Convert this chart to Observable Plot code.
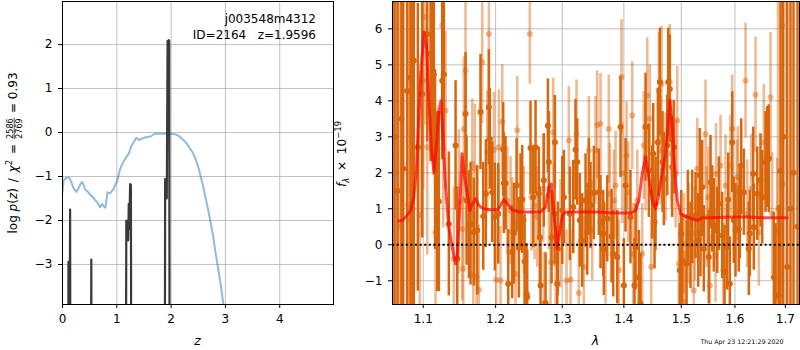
<!DOCTYPE html>
<html><head><meta charset="utf-8">
<script src="https://cdn.jsdelivr.net/npm/d3@7"></script>
<script src="https://cdn.jsdelivr.net/npm/@observablehq/plot@0.6"></script>
<style>
body{margin:0;background:#fff;}
#wrap{position:relative;width:800px;height:350px;overflow:hidden;font-family:"DejaVu Sans";}
#wrap svg{position:absolute;top:0;overflow:visible;}
</style></head><body><div id="wrap"></div>
<script>
// ---------- left panel: redshift PDF ----------
const zChi = [0.00,0.02,0.05,0.08,0.12,0.16,0.21,0.26,0.30,0.34,0.37,0.42,0.47,0.52,0.57,0.61,0.65,0.69,0.73,0.76,0.79,0.83,0.88,0.94,1.01,1.06,1.13,1.22,1.27,1.31,1.36,1.41,1.50,1.56,1.62,1.67,1.71,1.80,1.93,2.02,2.08,2.13,2.20,2.27,2.33,2.40,2.45,2.50,2.54,2.59,2.63,2.68,2.72,2.77,2.81,2.86,2.91,2.95,3.00,3.20];
const logChi = [-1.35,-1.09,-1.05,-1.03,-1.03,-1.12,-1.28,-1.35,-1.25,-1.15,-1.13,-1.30,-1.35,-1.43,-1.48,-1.55,-1.60,-1.70,-1.62,-1.68,-1.71,-1.36,-1.38,-1.28,-1.09,-0.83,-0.64,-0.48,-0.30,-0.22,-0.12,-0.17,-0.12,-0.10,-0.09,-0.05,-0.02,-0.03,-0.02,-0.03,-0.04,-0.07,-0.14,-0.22,-0.33,-0.46,-0.60,-0.78,-0.98,-1.22,-1.47,-1.74,-2.00,-2.33,-2.67,-3.05,-3.43,-3.80,-4.20,-6.00];
const zPz = [0.00,0.10,0.11,0.12,0.135,0.14,0.15,0.52,0.53,0.54,1.16,1.175,1.19,1.20,1.21,1.22,1.23,1.245,1.26,1.27,1.88,1.89,1.90,1.91,1.92,1.935,1.945,1.955,1.965,1.975,5.0];
const logPz = [-10,-10,-2.94,-9,-3.5,-1.75,-10,-10,-2.89,-10,-10,-2.0,-2.45,-2.03,-2.45,-1.62,-2.2,-1.17,-1.2,-10,-10,-1.06,-1.46,-1.1,-1.5,2.08,1.2,2.1,2.08,-10,-10];
const zTicks = [0,1,2,3,4];
const pTicks = [-3,-2,-1,0,1,2];
const objName = "j003548m4312";
const objInfo = "ID=2164   z=1.9596";

// ---------- right panel: spectrum ----------
const lamDark = [1.0627,1.0666,1.0739,1.0790,1.0833,1.0876,1.0929,1.0987,1.1053,1.1097,
1.1120,1.1141,1.1157,1.1187,1.1208,1.1254,1.1276,1.1344,1.1436,1.1459,
1.1574,1.1588,1.1620,1.1644,1.1690,1.1738,1.1784,1.1823,1.1860,1.1903,
1.1917,1.1951,1.1989,1.2038,1.2110,1.2119,1.2144,1.2183,1.2242,1.2266,
1.2306,1.2340,1.2365,1.2390,1.2425,1.2454,1.2465,1.2514,1.2555,1.2590,
1.2640,1.2655,1.2666,1.2716,1.2743,1.2778,1.2793,1.2835,1.2886,1.2881,
1.2923,1.2932,1.3001,1.3026,1.3120,1.3174,1.3210,1.3237,1.3278,1.3316,
1.3370,1.3397,1.3423,1.3450,1.3504,1.3585,1.3613,1.3657,1.3667,1.3723,
1.3794,1.3822,1.3889,1.3944,1.4000,1.4028,1.4112,1.4180,1.4198,1.4254,
1.4283,1.4370,1.4427,1.4486,1.4503,1.4526,1.4544,1.4584,1.4619,1.4666,
1.4689,1.4750,1.4767,1.4795,1.4838,1.4867,1.4974,1.5000,1.5018,1.5096,
1.5119,1.5168,1.5199,1.5260,1.5309,1.5338,1.5351,1.5383,1.5412,1.5505,
1.5537,1.5569,1.5599,1.5663,1.5693,1.5757,1.5801,1.5852,1.5871,1.5902,
1.5948,1.5978,1.6011,1.6074,1.6094,1.6121,1.6171,1.6269,1.6288,1.6355,
1.6367,1.6434,1.6499,1.6533,1.6599,1.6633,1.6665,1.6766,1.6800,1.6867,
1.6901,1.6956,1.7038,1.7105,1.7167,1.7250,1.0600,1.0715,1.0858];
const fluxDark = [3.0,1.5,2.11,4.27,4.64,5.12,2.71,4.19,5.86,5.31,
5.17,4.73,2.37,1.2,1.2,4.56,4.73,0.58,2.76,-0.39,
3.64,1.23,0.56,0.58,0.35,0.40,3.69,0.79,1.42,3.82,
2.94,1.46,0.77,0.86,2.65,1.71,1.71,-1.08,-0.2,0.31,
1.65,-0.08,1.23,1.26,-0.46,-1.36,-1.45,2.69,1.32,2.71,
1.42,0.21,-1.13,1.79,-1.62,3.31,2.30,0.21,2.85,0.86,
-1.08,-0.11,0.95,1.32,0.86,1.05,2.64,2.30,0.68,0.12,
1.23,0.35,1.65,1.09,1.44,1.46,0.63,0.31,-0.11,0.72,
0.24,-0.25,-0.34,3.27,-1.13,1.65,0.77,-1.13,-0.06,-0.90,
-1.64,3.27,2.06,1.46,2.53,0.63,1.14,2.85,4.52,2.30,
1.83,2.76,4.52,4.33,2.16,2.71,-0.71,0.31,-0.44,-0.53,
0.77,-0.02,0.77,0.81,0.12,1.93,0.31,1.60,-0.11,-0.34,
1.74,1.0,0.54,0.40,1.14,0.26,-0.76,-0.06,1.25,-1.08,
2.85,0.68,0.40,0.44,0.91,2.20,1.46,-0.11,0.31,1.97,
0.49,1.42,1.79,1.32,2.30,2.44,2.39,-0.90,-1.41,-1.41,
2.06,3.0,-0.62,1.0,2.0,0.5,2.5,3.5,1.0];
const errDark = [9,10,9,8,8,7,4,4,3,3,
2.8,2.8,2.5,2.5,2.5,2.2,2.0,2.0,1.8,2.0,
1.7,1.8,1.5,1.7,1.5,1.8,1.6,1.5,1.5,1.6,
1.4,1.4,1.5,1.4,1.3,1.4,1.3,1.5,1.3,1.4,
1.3,1.4,1.3,1.5,1.3,1.4,1.3,1.3,1.4,1.3,
1.3,1.4,1.3,1.3,1.4,1.3,1.4,1.3,1.3,1.4,
1.6,1.3,1.5,1.3,1.3,1.3,1.4,1.2,1.3,1.3,
1.3,1.2,1.3,1.2,1.3,1.2,1.3,1.2,1.3,1.2,
1.3,1.2,1.3,1.4,1.3,1.3,1.3,1.3,1.2,1.3,
1.4,1.5,1.3,1.3,1.4,1.3,1.3,1.5,1.5,1.4,
1.3,1.4,1.5,1.5,1.4,1.3,1.3,1.2,1.3,1.2,
1.3,1.2,1.3,1.2,1.3,1.3,1.2,1.3,1.2,1.3,
1.3,1.2,1.3,1.2,1.3,1.2,1.3,1.2,1.3,1.3,
1.4,1.2,1.3,1.2,1.3,1.3,1.2,1.3,1.2,1.3,
1.2,1.3,1.3,1.3,1.4,1.4,1.5,1.8,2.0,2.5,
10,10,10,10,10,10,10,10,9];

const lamLight = [1.0646,1.0691,1.0798,1.0833,1.0955,1.1000,1.1031,1.1053,1.1164,1.1254,
1.1268,1.1299,1.1412,1.1481,1.1528,1.1550,1.1574,1.1542,1.1668,1.1682,
1.1704,1.1728,1.1760,1.1808,1.1880,1.1903,1.1975,1.2009,1.2047,1.2071,
1.2096,1.2169,1.2217,1.2242,1.2291,1.2316,1.2414,1.2504,1.2529,1.2575,
1.2616,1.2707,1.2716,1.2793,1.2819,1.2861,1.2897,1.2974,1.3068,1.3104,
1.3131,1.3226,1.3262,1.3342,1.3423,1.3478,1.3532,1.3559,1.3613,1.3695,
1.3749,1.3766,1.3832,1.3861,1.3916,1.3961,1.3973,1.4045,1.4073,1.4141,
1.4158,1.4227,1.4312,1.4340,1.4370,1.4399,1.4444,1.4468,1.4601,1.4631,
1.4649,1.4720,1.4795,1.4821,1.4898,1.4928,1.4957,1.5047,1.5059,1.5137,
1.5228,1.5246,1.5291,1.5444,1.5463,1.5494,1.5524,1.5631,1.5640,1.5725,
1.5776,1.5820,1.5915,1.5948,1.6044,1.6055,1.6205,1.6238,1.6316,1.6401,
1.6467,1.6565,1.6699,1.6733,1.6834,1.6851,1.6936,1.6942];
const fluxLight = [2.0,0.5,1.12,0.68,0.83,4.56,6.32,2.71,0.35,6.09,
2.67,3.73,-0.39,1.19,0.44,3.22,4.84,-0.67,2.25,-0.85,
2.11,-0.90,-1.25,5.07,2.57,5.86,2.64,-0.97,2.71,-0.99,
3.41,1.23,0.95,0.37,-0.81,3.18,0.68,5.86,1.32,1.09,
0.77,1.56,-1.62,1.37,-0.48,3.13,-0.53,0.31,-0.99,2.90,
-0.97,3.08,-1.34,-0.62,2.62,0.40,2.62,3.33,3.36,-0.25,
3.22,1.42,1.23,1.65,-0.71,4.66,1.99,2.48,1.46,3.59,
-0.25,1.23,-0.25,2.76,2.44,4.15,3.5,-0.62,4.29,2.62,
4.47,2.16,4.52,2.53,1.97,3.45,-0.53,0.03,-1.59,0.31,
-1.27,0.31,2.11,3.08,0.77,1.32,-1.13,-0.30,1.97,2.20,
-0.71,1.65,2.20,3.22,1.51,1.88,4.56,0.86,1.56,4.17,
0.35,2.85,4.10,0.86,0.40,1.0,6.09,1.69];
const errLight = [10,9,8,7,4,3,3,3,2.5,2.5,
2.2,2.2,2.0,2.0,2.0,2.0,2.0,2.0,1.8,1.8,
1.8,1.8,1.8,1.7,1.7,1.7,1.6,1.6,1.6,1.5,
1.6,1.5,1.5,1.5,1.5,1.5,1.5,1.4,1.5,1.5,
1.4,1.5,1.4,1.5,1.4,1.5,1.4,1.5,1.4,1.5,
1.4,1.5,1.5,1.4,1.5,1.4,1.5,1.5,1.4,1.4,
1.5,1.4,1.4,1.5,1.4,1.6,1.4,1.5,1.4,1.5,
1.4,1.4,1.4,1.5,1.5,1.6,1.5,1.4,1.6,1.5,
1.6,1.5,1.6,1.5,1.5,1.5,1.4,1.4,1.4,1.4,
1.4,1.3,1.4,1.5,1.4,1.4,1.4,1.3,1.4,1.4,
1.3,1.4,1.4,1.5,1.4,1.4,1.6,1.5,1.5,1.6,
1.5,1.6,1.8,1.7,2.0,9,3,3];

const lamModel = [1.0682,1.0730,1.0769,1.0833,1.0876,1.0912,1.0942,1.0973,1.1011,1.1044,1.1074,1.1110,1.1144,1.1177,1.1208,1.1238,1.1262,1.1299,1.1344,1.1390,1.1436,1.1459,1.1494,1.1525,1.1560,1.1598,1.1634,1.1668,1.1714,1.1760,1.1831,1.1927,1.2023,1.2071,1.2119,1.2169,1.2242,1.2340,1.2514,1.2666,1.2743,1.2793,1.2830,1.2861,1.2897,1.2923,1.2954,1.3001,1.3053,1.3289,1.3559,1.3832,1.4112,1.4198,1.4254,1.4312,1.4370,1.4427,1.4486,1.4544,1.4601,1.4661,1.4720,1.4761,1.4795,1.4838,1.4880,1.4928,1.4987,1.5078,1.5199,1.5291,1.5383,1.5537,1.5915,1.6238,1.6565,1.7038];
const fluxModel = [0.66,0.68,0.77,0.95,1.32,2.16,3.55,4.94,5.91,5.49,4.01,2.62,2.02,2.81,3.73,4.0,3.08,1.60,0.49,-0.06,-0.53,-0.34,1.05,2.53,1.88,1.42,0.95,1.14,1.28,1.09,1.0,0.97,0.97,1.09,1.25,1.14,0.97,0.91,0.91,0.91,1.05,1.60,1.69,1.05,0.40,-0.11,0.31,0.81,0.91,0.91,0.91,0.88,0.88,0.95,1.23,1.97,2.44,1.88,1.23,1.0,1.42,2.02,2.53,3.27,4.01,3.36,2.16,1.23,0.86,0.79,0.72,0.68,0.75,0.75,0.77,0.77,0.75,0.75];
const lamTicks = [1.1,1.2,1.3,1.4,1.5,1.6,1.7];
const fTicks = [-1,0,1,2,3,4,5,6];
const stamp = "Thu Apr 23 12:21:29 2020";

// ---------- build ----------
const chiData = zChi.map((z,i)=>({z, v:logChi[i]}));
const pzData = zPz.map((z,i)=>({z, v:logPz[i]}));
const dark = lamDark.map((l,i)=>({l, f:fluxDark[i], e:errDark[i]}));
const light = lamLight.map((l,i)=>({l, f:fluxLight[i], e:errLight[i]}));
const model = lamModel.map((l,i)=>({l, f:fluxModel[i]}));

const FONT = "DejaVu Sans";
const GRID = {stroke:"#b0b0b0", strokeOpacity:1, strokeWidth:0.8};
const ORANGE = "#d9660c";
const intFmt = d3.format("d");
const baseStyle = {fontFamily:FONT, fontSize:"12px", color:"black", background:"transparent", overflow:"visible"};

const left = Plot.plot({
  width:335, height:350, marginLeft:62, marginRight:2, marginTop:1, marginBottom:46,
  style: baseStyle,
  x:{domain:[0,4.99]},
  y:{domain:[-3.91,2.98]},
  marks:[
    Plot.gridX(zTicks, GRID),
    Plot.gridY(pTicks, GRID),
    Plot.line(chiData, {x:"z", y:"v", stroke:"#1f77b4", strokeOpacity:0.5, strokeWidth:2, clip:true}),
    Plot.line(pzData, {x:"z", y:"v", stroke:"#3a3a3a", strokeWidth:2.2, clip:true}),
    Plot.axisX({ticks:zTicks, tickSize:4, tickPadding:6, tickFormat:intFmt, label:null}),
    Plot.axisY({ticks:pTicks, tickSize:4, tickPadding:6, tickFormat:intFmt, label:null}),
    Plot.frame({stroke:"black", strokeWidth:1})
  ]
});

const right = Plot.plot({
  width:465, height:350, marginLeft:57, marginRight:1, marginTop:1, marginBottom:46,
  style: baseStyle,
  x:{type:"log", domain:[1.0601,1.7291]},
  y:{domain:[-1.66,6.76]},
  marks:[
    Plot.gridX(lamTicks, GRID),
    Plot.gridY(fTicks, GRID),
    Plot.ruleX(dark, {x:"l", y1:d=>d.f-d.e, y2:d=>d.f+d.e, stroke:ORANGE, strokeWidth:2.5, clip:true}),
    Plot.dot(dark, {x:"l", y:"f", r:3, fill:ORANGE, stroke:"none", clip:true}),
    Plot.ruleX(light, {x:"l", y1:d=>d.f-d.e, y2:d=>d.f+d.e, stroke:ORANGE, strokeOpacity:0.45, strokeWidth:2.6, clip:true}),
    Plot.dot(light, {x:"l", y:"f", r:3, fill:ORANGE, fillOpacity:0.45, stroke:"none", clip:true}),
    Plot.line(model, {x:"l", y:"f", stroke:"red", strokeOpacity:0.7, strokeWidth:3, clip:true}),
    Plot.ruleY([0], {stroke:"black", strokeWidth:2, strokeDasharray:"2,2.6"}),
    Plot.axisX({ticks:lamTicks, tickSize:4, tickPadding:6, tickFormat:d=>d.toFixed(1), label:null}),
    Plot.axisY({ticks:fTicks, tickSize:4, tickPadding:6, tickFormat:intFmt, label:null}),
    Plot.frame({stroke:"black", strokeWidth:1})
  ]
});

const wrap = document.getElementById("wrap");
left.style.left = "0px";
right.style.left = "335px";
wrap.appendChild(left);
wrap.appendChild(right);

// ---------- texts ----------
const L = d3.select(left), R = d3.select(right);
function txt(sel, x, y, s, size, anchor, italic) {
  return sel.append("text").attr("x",x).attr("y",y).attr("font-family",FONT).attr("font-size",size)
    .attr("text-anchor",anchor||"start").attr("fill","black").style("white-space","pre")
    .attr("font-style", italic ? "italic" : null).text(s);
}
txt(L, 316, 23, objName, 12, "end");
txt(L, 316, 39, objInfo, 12, "end");
txt(L, 197.5, 345, "z", 12.5, "middle", true);
txt(R, 595.5-335, 345, "λ", 12.5, "middle", true);
txt(R, 742-335, 344, stamp, 6.3, "middle");

// left y label with a fraction
{
  const g = L.append("g").attr("transform","translate(17,153) rotate(-90)").attr("font-family",FONT).attr("fill","black").attr("text-anchor","start");
  const inner = g.append("g");
  const tA = inner.append("text").attr("font-size",12).attr("text-anchor","start").style("white-space","pre");
  tA.append("tspan").text("log ");
  tA.append("tspan").attr("font-style","italic").text("p");
  tA.append("tspan").text("(");
  tA.append("tspan").attr("font-style","italic").text("z");
  tA.append("tspan").text(")");
  tA.append("tspan").attr("dx",2).text(" / ");
  tA.append("tspan").attr("dx",2).attr("font-style","italic").text("χ");
  tA.append("tspan").attr("font-size",8.5).attr("dy",-5).text("2");
  tA.append("tspan").attr("dy",5).attr("dx",2).text(" = ");
  const wA = tA.node().getComputedTextLength() + 6 + 1;
  const num = inner.append("text").attr("font-size",8).attr("text-anchor","middle").text("2586");
  const den = inner.append("text").attr("font-size",8).attr("text-anchor","middle").text("2769");
  const fw = Math.max(num.node().getComputedTextLength(), den.node().getComputedTextLength()) + 1;
  num.attr("x", wA + fw/2).attr("y", -4.5);
  den.attr("x", wA + fw/2).attr("y", 5);
  inner.append("line").attr("x1", wA).attr("x2", wA+fw).attr("y1",-2.8).attr("y2",-2.8).attr("stroke","black").attr("stroke-width",0.7);
  const tC = inner.append("text").attr("font-size",12).attr("text-anchor","start").attr("x", wA+fw+1).style("white-space","pre").text(" = 0.93");
  const total = wA + fw + 1 + tC.node().getComputedTextLength();
  inner.attr("transform", `translate(${-total/2},0)`);
}
// right y label
{
  const g = R.append("g").attr("transform","translate(11,154) rotate(-90)").attr("font-family",FONT).attr("fill","black");
  const t = g.append("text").attr("font-size",12).attr("text-anchor","middle").attr("x",0).style("white-space","pre");
  t.append("tspan").attr("font-style","italic").text("f");
  t.append("tspan").attr("font-style","italic").attr("font-size",8.5).attr("dy",3).text("λ");
  t.append("tspan").attr("dy",-3).attr("dx",3).text(" × ");
  t.append("tspan").attr("dx",3).text("10");
  t.append("tspan").attr("font-size",8.5).attr("dy",-5).text("−19");
}
</script>
</body></html>
